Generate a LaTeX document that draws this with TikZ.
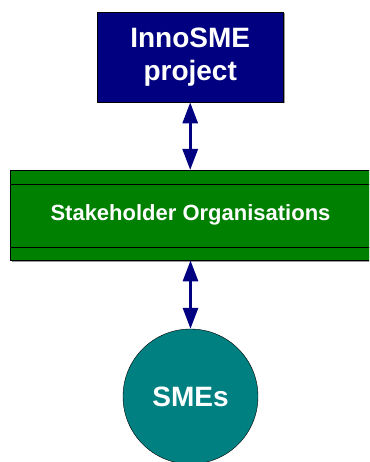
\documentclass[tikz,border=0pt]{standalone}
\usepackage{fontspec}
\setmainfont{Liberation Sans}
\usetikzlibrary{arrows.meta}
\definecolor{navybox}{HTML}{000080}
\definecolor{greenbox}{HTML}{008000}
\definecolor{tealbox}{HTML}{008080}
\begin{document}
\begin{tikzpicture}[x=1pt,y=-1pt,
  boxtext/.style={text=white,font=\bfseries},
  link/.style={draw=navybox,line width=3pt,{Triangle[length=21pt,width=15pt]}-{Triangle[length=21pt,width=15pt]},shorten <=0pt,shorten >=0pt},
  shadow/.style={fill=black!40}]
\useasboundingbox (0,0) rectangle (369,462);
\clip (0,0) rectangle (369,462);
% shadows
\fill[shadow] (98.5,13.5) rectangle (284.5,103.5);
\fill[shadow] (11.5,171.5) rectangle (380,261.5);
% top box
\node[draw=black,fill=navybox,minimum width=186pt,minimum height=90pt,inner sep=0pt,anchor=north west,
  boxtext,align=center,font=\bfseries\fontsize{28}{33}\selectfont] (inno) at (97,12) {InnoSME\\project};
% stakeholder band
\node[draw=black,fill=greenbox,minimum width=370pt,minimum height=90pt,inner sep=0pt,anchor=north west] (stake) at (10,170) {};
\node[boxtext,font=\bfseries\fontsize{22}{26}\selectfont,anchor=center] (stakelabel) at (190.5,215) {Stakeholder Organisations};
\coordinate (stakeL1) at (10,184);
\coordinate (stakeR1) at (380,184);
\coordinate (stakeL2) at (10,247);
\coordinate (stakeR2) at (380,247);
\draw[black] (stakeL1) -- (stakeR1);
\draw[black] (stakeL2) -- (stakeR2);
% circle
\node[draw=black,fill=tealbox,circle,minimum size=135pt,inner sep=0pt,
  boxtext,font=\bfseries\fontsize{28}{33}\selectfont] (smes) at (190.5,396.5) {SMEs};
% arrows
\draw[link] (inno.south) -- (stake.north -| inno.south);
\draw[link] (stake.south -| smes.north) -- (smes.north);
\end{tikzpicture}
\end{document}
